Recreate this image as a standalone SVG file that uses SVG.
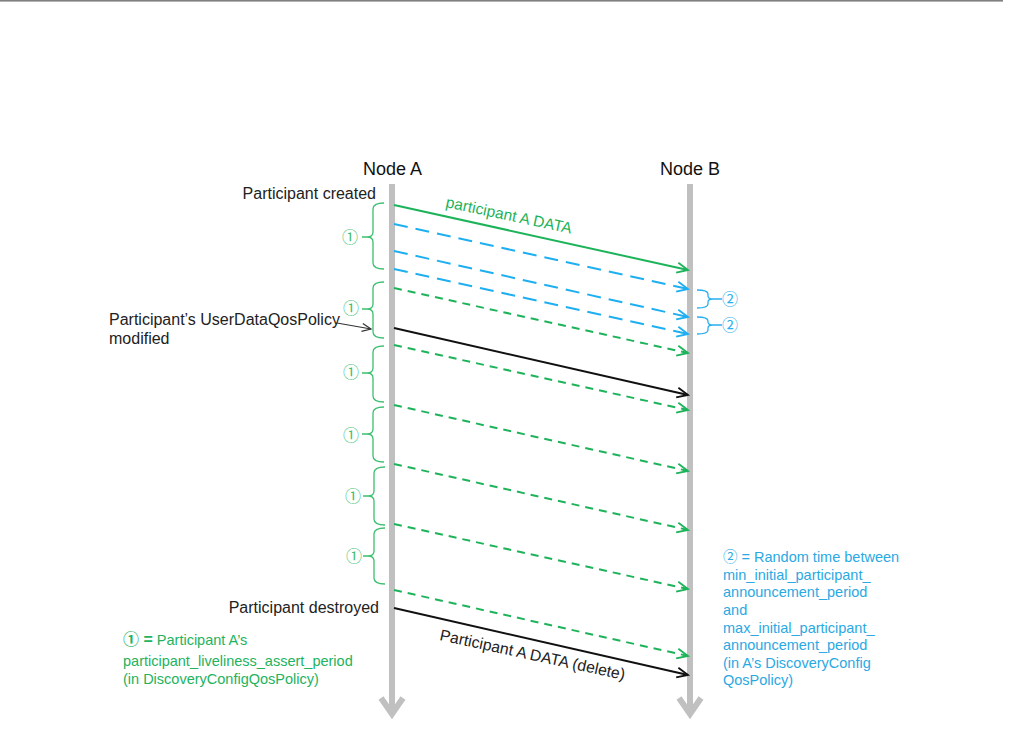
<svg xmlns="http://www.w3.org/2000/svg" width="1010" height="735" viewBox="0 0 1010 735">
<style>
  text{font-family:"Liberation Sans",Arial,"Noto Sans CJK JP",sans-serif;}
  .lbl{font-size:16px;fill:#222;}
  .node{font-size:18px;fill:#111;text-anchor:middle;}
  .life{stroke:#c0c0c0;stroke-width:6;fill:none;}
  .g{stroke:#1db35a;stroke-width:2;fill:none;}
  .gd{stroke:#1db35a;stroke-width:2;fill:none;stroke-dasharray:8 6;}
  .bd{stroke:#1eaff0;stroke-width:2;fill:none;stroke-dasharray:14 8;}
  .k{stroke:#111;stroke-width:2;fill:none;}
  .brg{stroke:#3cbf6e;stroke-width:1.3;fill:none;}
  .brb{stroke:#2ab0ee;stroke-width:1.3;fill:none;}
  .c1{font-size:16px;fill:#3cbf6e;text-anchor:middle;}
  .c2{font-size:16px;fill:#2ab0ee;text-anchor:middle;}
  .gt{font-size:14.5px;fill:#22b35e;}
  .bt{font-size:14.5px;fill:#2aa9e3;}
</style>
<defs>
  <marker id="ag" markerUnits="userSpaceOnUse" markerWidth="14" markerHeight="12" refX="11" refY="5" orient="auto" overflow="visible">
    <path d="M0,0 L11,5 L0,10" fill="none" stroke="#1db35a" stroke-width="1.8" stroke-dasharray="none"/>
  </marker>
  <marker id="ab" markerUnits="userSpaceOnUse" markerWidth="14" markerHeight="12" refX="11" refY="5" orient="auto" overflow="visible">
    <path d="M0,0 L11,5 L0,10" fill="none" stroke="#1eaff0" stroke-width="1.8" stroke-dasharray="none"/>
  </marker>
  <marker id="ak" markerUnits="userSpaceOnUse" markerWidth="14" markerHeight="12" refX="11" refY="5" orient="auto" overflow="visible">
    <path d="M0,0 L11,5 L0,10" fill="none" stroke="#111" stroke-width="1.8" stroke-dasharray="none"/>
  </marker>
  <marker id="aks" markerUnits="userSpaceOnUse" markerWidth="12" markerHeight="10" refX="9" refY="4" orient="auto" overflow="visible">
    <path d="M0,0 L9,4 L0,8" fill="none" stroke="#333" stroke-width="1.2"/>
  </marker>
</defs>

<rect x="0" y="0" width="1003" height="1.6" fill="#808080"/>

<g id="nodeA">
  <text class="node" x="392.5" y="175">Node A</text>
  <line class="life" x1="392" y1="184" x2="392" y2="713"/>
  <polyline class="life" points="381,698 392,714 403,698"/>
</g>
<g id="nodeB">
  <text class="node" x="690" y="175">Node B</text>
  <line class="life" x1="690" y1="184" x2="690" y2="713"/>
  <polyline class="life" points="679,698 690,714 701,698"/>
</g>

<g id="connectors">
  <line class="g" x1="394" y1="205" x2="688" y2="270" marker-end="url(#ag)"/>
  <line class="bd" x1="394" y1="224" x2="688" y2="289" marker-end="url(#ab)"/>
  <line class="bd" x1="394" y1="251" x2="688" y2="317" marker-end="url(#ab)"/>
  <line class="bd" x1="394" y1="269" x2="688" y2="334" marker-end="url(#ab)"/>
  <line class="gd" x1="394" y1="288" x2="688" y2="353" marker-end="url(#ag)"/>
  <line class="k" x1="394" y1="328" x2="688" y2="395" marker-end="url(#ak)"/>
  <line class="gd" x1="394" y1="345" x2="688" y2="410" marker-end="url(#ag)"/>
  <line class="gd" x1="394" y1="405" x2="688" y2="471" marker-end="url(#ag)"/>
  <line class="gd" x1="394" y1="464" x2="688" y2="530" marker-end="url(#ag)"/>
  <line class="gd" x1="394" y1="524" x2="688" y2="589" marker-end="url(#ag)"/>
  <line class="gd" x1="394" y1="590" x2="688" y2="656" marker-end="url(#ag)"/>
  <line class="k" x1="394" y1="608" x2="688" y2="675" marker-end="url(#ak)"/>
  <line x1="337" y1="323" x2="371" y2="329" stroke="#333" stroke-width="1.2" marker-end="url(#aks)"/>
</g>

<g id="msg-labels">
  <text x="445" y="207" transform="rotate(12 445 207)" font-size="15.6" fill="#1db35a">participant A DATA</text>
  <text x="439" y="640" transform="rotate(12.2 439 640)" font-size="15.8" fill="#222">Participant A DATA (delete)</text>
</g>

<g id="events">
  <text class="lbl" x="376" y="199" text-anchor="end">Participant created</text>
  <text class="lbl" x="379" y="613" text-anchor="end">Participant destroyed</text>
  <text class="lbl" x="109" y="325">Participant’s UserDataQosPolicy</text>
  <text class="lbl" x="109" y="344">modified</text>
</g>

<g id="period-brackets">
  <path class="brg" d="M384,203 Q373,203 373,209 L373,232 Q373,237 367,237 Q373,237 373,242 L373,263 Q373,269 384,269 M367,237 L362,237"/>
  <text class="c1" x="350" y="243">①</text>
  <path class="brg" d="M384,282 Q373,282 373,288 L373,304 Q373,309 367,309 Q373,309 373,314 L373,332 Q373,338 384,338 M367,309 L362,309"/>
  <text class="c1" x="351" y="314">①</text>
  <path class="brg" d="M384,346 Q373,346 373,352 L373,368 Q373,373 367,373 Q373,373 373,378 L373,396 Q373,402 384,402 M367,373 L362,373"/>
  <text class="c1" x="351" y="378">①</text>
  <path class="brg" d="M384,407 Q373,407 373,413 L373,429 Q373,434 367,434 Q373,434 373,439 L373,456 Q373,462 384,462 M367,434 L362,434"/>
  <text class="c1" x="351" y="441">①</text>
  <path class="brg" d="M385,467 Q374,467 374,473 L374,491 Q374,496 368,496 Q374,496 374,501 L374,519 Q374,525 385,525 M368,496 L363,496"/>
  <text class="c1" x="353" y="502">①</text>
  <path class="brg" d="M385,528 Q374,528 374,534 L374,551 Q374,556 368,556 Q374,556 374,561 L374,578 Q374,584 385,584 M368,556 L363,556"/>
  <text class="c1" x="354" y="562">①</text>
</g>

<g id="random-brackets">
  <path class="brb" d="M697,290 Q708,290 708,294 L708,296 Q708,299 713,299 Q708,299 708,302 L708,304 Q708,308 697,308 M713,299 L722,299"/>
  <text class="c2" x="730" y="305">②</text>
  <path class="brb" d="M697,317 Q708,317 708,321 L708,322 Q708,325 713,325 Q708,325 708,328 L708,330 Q708,334 697,334 M713,325 L722,325"/>
  <text class="c2" x="730" y="331">②</text>
</g>

<g id="legend1">
  <text class="gt" x="123" y="645"><tspan font-weight="bold" font-size="16">① =</tspan> Participant A’s</text>
  <text class="gt" x="123" y="666">participant_liveliness_assert_period</text>
  <text class="gt" x="123" y="684">(in DiscoveryConfigQosPolicy)</text>
</g>

<g id="legend2">
  <text class="bt" x="723" y="562">② = Random time between</text>
  <text class="bt" x="723" y="580">min_initial_participant_</text>
  <text class="bt" x="723" y="597">announcement_period</text>
  <text class="bt" x="723" y="615">and</text>
  <text class="bt" x="723" y="633">max_initial_participant_</text>
  <text class="bt" x="723" y="650">announcement_period</text>
  <text class="bt" x="723" y="668">(in A’s DiscoveryConfig</text>
  <text class="bt" x="723" y="685">QosPolicy)</text>
</g>
</svg>
